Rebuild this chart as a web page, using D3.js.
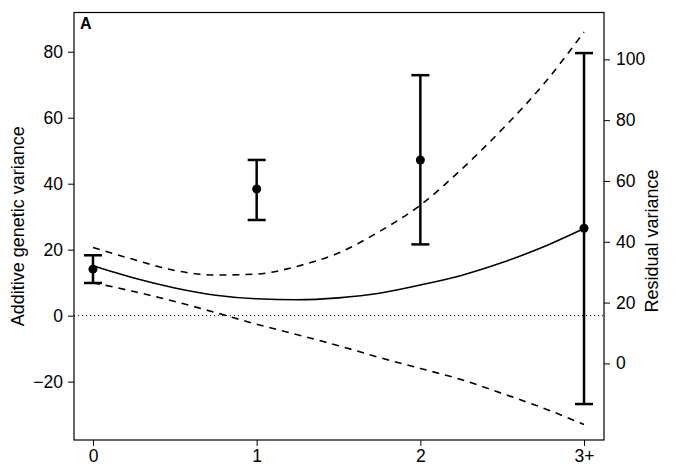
<!DOCTYPE html>
<html><head><meta charset="utf-8">
<script src="https://cdn.jsdelivr.net/npm/d3@7"></script>
<style>
html,body{margin:0;padding:0;background:#fff;}
svg{display:block;}
text{font-family:"Liberation Sans",Arial,sans-serif;fill:#000;}
</style></head>
<body>
<svg id="chart" width="680" height="468"></svg>
<script>
// ---- data ----
const categories = ["0", "1", "2", "3+"];
const catPos = [0, 1, 2, 3];
const pointEst = [14.1, 38.4, 47.2, 26.5];
const pointLo = [9.9, 29.0, 21.6, -26.8];
const pointHi = [18.3, 47.2, 72.9, 79.6];
const curveT = [0, 0.25, 0.5, 0.75, 1, 1.25, 1.5, 1.75, 2, 2.25, 2.5, 2.75, 3];
const curveMid = [15.1, 11.4, 8.4, 6.2, 5.1, 4.8, 5.4, 6.8, 9.3, 12.2, 16.1, 20.8, 26.4];
const curveUp = [20.7, 17.0, 13.7, 12.3, 12.6, 15.0, 19.0, 25.5, 33.5, 44.3, 56.5, 70.0, 86.0];
const curveLo = [10.0, 7.3, 4.3, 0.9, -2.6, -5.8, -9.1, -12.7, -16.0, -19.4, -23.6, -28.0, -33.0];
const leftTicks = [-20, 0, 20, 40, 60, 80];
const rightTicks = [0, 20, 40, 60, 80, 100];

// ---- layout ----
const L = 74, R = 604, T = 12.5, B = 440;
const svg = d3.select("#chart");
const x = d3.scaleLinear().domain([-0.116, 3.122]).range([L, R]);
const y = d3.scaleLinear().domain([-37.7, 91.9]).range([B, T]);
const y2 = d3.scaleLinear().domain([-25.2, 115.4]).range([B, T]);

const fontSize = "17.5px";

// axes
const gx = svg.append("g").attr("transform", `translate(0,${B})`)
  .call(d3.axisBottom(x).tickValues(catPos).tickFormat((d,i)=>categories[i]).tickSize(6).tickPadding(2));
const gy = svg.append("g").attr("transform", `translate(${L},0)`)
  .call(d3.axisLeft(y).tickValues(leftTicks).tickFormat(d => d < 0 ? "\u2212" + Math.abs(d) : d).tickSize(6).tickPadding(5));
const gy2 = svg.append("g").attr("transform", `translate(${R},0)`)
  .call(d3.axisRight(y2).tickValues(rightTicks).tickSize(6).tickPadding(6));
[gx, gy, gy2].forEach(g => {
  g.select(".domain").remove();
  g.selectAll(".tick line").attr("stroke", "#000").attr("stroke-width", 1);
  g.selectAll(".tick text").style("font-size", fontSize).attr("fill", "#000");
});
gx.selectAll(".tick text").attr("dy", "0.8em");

// box
svg.append("rect").attr("x", L).attr("y", T).attr("width", R - L).attr("height", B - T)
  .attr("fill", "none").attr("stroke", "#000").attr("stroke-width", 1.2);

// zero dotted line
svg.append("line").attr("x1", L).attr("x2", R).attr("y1", y(0)).attr("y2", y(0))
  .attr("stroke", "#000").attr("stroke-width", 1).attr("stroke-dasharray", "1,3");

// curves
const line = d3.line().curve(d3.curveMonotoneX);
const mk = arr => curveT.map((t, i) => [x(t), y(arr[i])]);
svg.append("path").attr("d", line(mk(curveMid))).attr("fill", "none").attr("stroke", "#000").attr("stroke-width", 1.6);
svg.append("path").attr("d", line(mk(curveUp))).attr("fill", "none").attr("stroke", "#000").attr("stroke-width", 1.6).attr("stroke-dasharray", "7,6");
svg.append("path").attr("d", line(mk(curveLo))).attr("fill", "none").attr("stroke", "#000").attr("stroke-width", 1.6).attr("stroke-dasharray", "7,6");

// error bars
const eb = svg.append("g");
catPos.forEach((c, i) => {
  const cx = x(c);
  eb.append("line").attr("x1", cx).attr("x2", cx).attr("y1", y(pointLo[i])).attr("y2", y(pointHi[i]))
    .attr("stroke", "#000").attr("stroke-width", 2.5);
  [pointLo[i], pointHi[i]].forEach(v => {
    eb.append("line").attr("x1", cx - 9).attr("x2", cx + 9).attr("y1", y(v)).attr("y2", y(v))
      .attr("stroke", "#000").attr("stroke-width", 2.5);
  });
  eb.append("circle").attr("cx", cx).attr("cy", y(pointEst[i])).attr("r", 4.5).attr("fill", "#000");
});

// titles
svg.append("text").attr("transform", `translate(24,${(T + B) / 2}) rotate(-90)`)
  .attr("text-anchor", "middle").style("font-size", "18px").text("Additive genetic variance");
svg.append("text").attr("transform", `translate(658,241) rotate(-90)`)
  .attr("text-anchor", "middle").style("font-size", "18px").text("Residual variance");
svg.append("text").attr("x", 80).attr("y", 29).style("font-size", "16px").style("font-weight", "bold").text("A");
</script>
</body></html>
